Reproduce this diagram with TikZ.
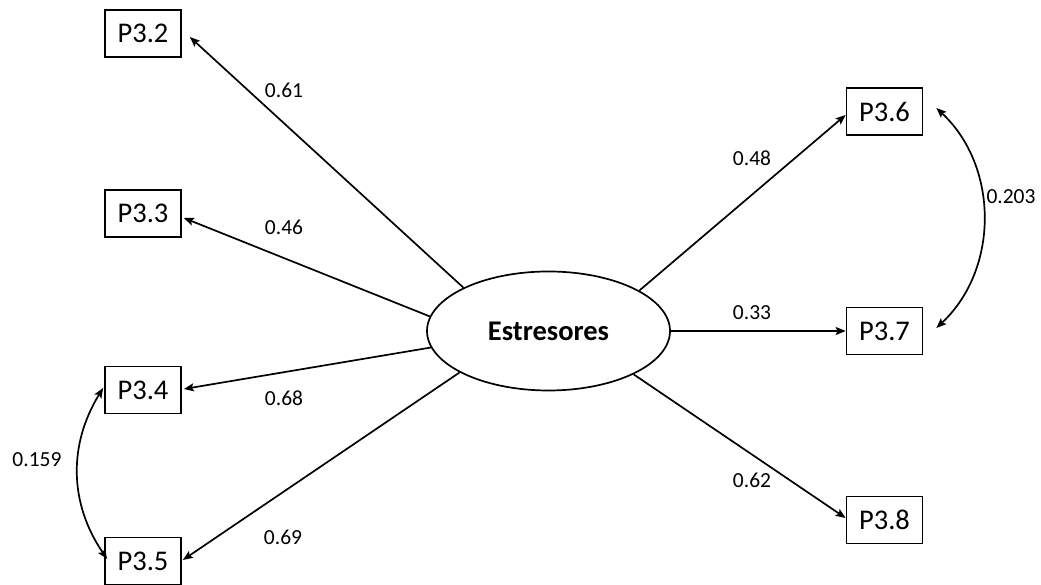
\documentclass[tikz,border=0pt]{standalone}
\usepackage{fontspec}
\setmainfont{Carlito}
\usetikzlibrary{arrows.meta,shapes.geometric}

\begin{document}
\begin{tikzpicture}[x=1pt,y=1pt,
  line width=1.7pt,
  item/.style={draw, rectangle, minimum width=76pt, minimum height=47pt,
    inner sep=0pt, font=\fontsize{28.5}{33}\selectfont},
  latent/.style={draw, ellipse, minimum width=243pt, minimum height=119pt,
    inner sep=0pt, font=\fontsize{28.5}{33}\selectfont\bfseries},
  coef/.style={inner sep=0pt, font=\fontsize{21.5}{25}\selectfont},
  path/.style={-{Stealth[length=10pt,width=8pt,inset=2pt]}},
  cov/.style={{Stealth[length=10pt,width=8pt,inset=2pt]}-{Stealth[length=10pt,width=8pt,inset=2pt]}}
]
\useasboundingbox (0,0) rectangle (1041,585);

% latent factor
\node[latent] (E) at (548.5,254) {Estresores};

% observed items
\node[item] (P32) at (143,551.5) {P3.2};
\node[item] (P33) at (143,371.5) {P3.3};
\node[item] (P34) at (143,195) {P3.4};
\node[item] (P35) at (143,24) {P3.5};
\node[item] (P36) at (884.5,473.5) {P3.6};
\node[item] (P37) at (884.5,254) {P3.7};
\node[item] (P38) at (884.5,65) {P3.8};

% loadings
\draw[path] (E.153)   -- ([xshift=8pt,yshift=-3.5pt]P32.east);
\draw[path] (E.173.6) -- ([xshift=2pt,yshift=-4.5pt]P33.east);
\draw[path] (E.188.8) -- ([xshift=2pt,yshift=1pt]P34.east);
\draw[path] (E.205.7) -- ([xshift=1pt,yshift=1pt]P35.east);
\draw[path] (E.24.7)  -- ([yshift=-3.5pt]P36.west);
\draw[path] (E.0)     -- (P37.west);
\draw[path] (E.333.8) -- ([yshift=2pt]P38.west);

% covariances
\draw[cov] ([xshift=13pt,yshift=3.5pt]P36.east) to[bend left=47] ([xshift=13pt,yshift=3pt]P37.east);
\draw[cov] ([xshift=-1pt,yshift=2pt]P34.west) to[bend right=33] ([xshift=3pt,yshift=2pt]P35.west);

% coefficient labels
\node[coef] (l32) at (284,494.5) {0.61};
\node[coef] (l33) at (284,358) {0.46};
\node[coef] (l34) at (284,187) {0.68};
\node[coef] (l35) at (283,48) {0.69};
\node[coef] (l36) at (752,427) {0.48};
\node[coef] (l37) at (752,272) {0.33};
\node[coef] (l38) at (752,105) {0.62};
\node[coef] (c67) at (1011,388) {0.203};
\node[coef] (c45) at (37,125) {0.159};
\end{tikzpicture}
\end{document}
